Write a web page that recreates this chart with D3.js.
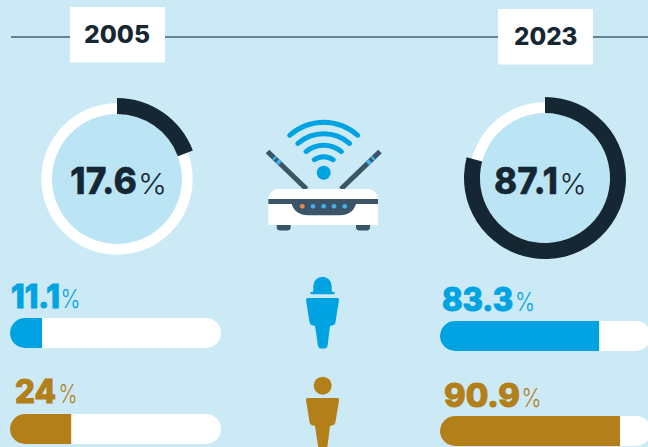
<!DOCTYPE html>
<html>
<head>
<meta charset="utf-8">
<script src="https://cdnjs.cloudflare.com/ajax/libs/d3/7.8.5/d3.min.js"></script>
<style>
  html, body { margin: 0; padding: 0; background: #cbeaf6; overflow: hidden; }
  svg { display: block; }
  text { font-family: Inter, "Open Sans", sans-serif; }
</style>
</head>
<body>
<script>
var years = ['2005', '2023']
var ringLabels = ['17.6', '87.1']
// share of the ring as it is actually drawn, the artwork is not to scale
var ringDrawn = [19.3, 79.1]
var barLabels = ['11.1', '24', '83.3', '90.9']
// same for the bars, percent of the white track that is filled
var barDrawn = [15.2, 29, 75.4, 85.3]

var W = 648, H = 447
var DARK = '#152733', BLUE = '#00a3e2', GOLD = '#b27f19', SLATE = '#3b5468'
var WHITE = '#ffffff', PALE = '#bbe4f5', LED = '#45b1ea', ORANGE = '#ea8a4a'

var svg = d3.select('body').append('svg').attr('width', W).attr('height', H)
svg.append('rect').attr('width', W).attr('height', H).attr('fill', '#cbeaf6')

// header line and year boxes
svg.append('line').attr('x1', 11).attr('x2', W).attr('y1', 37).attr('y2', 37)
  .attr('stroke', '#456274').attr('stroke-width', 1.4)

var yearBoxes = [{ x: 70, y: 7, tx: 84, tw: 66 }, { x: 498, y: 9, tx: 514, tw: 63.5 }]
years.forEach(function(y, i){
  var b = yearBoxes[i]
  svg.append('rect').attr('x', b.x).attr('y', b.y).attr('width', 95).attr('height', 55.5).attr('fill', WHITE)
  svg.append('text').text(y)
    .attr('x', b.tx).attr('y', b.y + 35.5)
    .attr('font-size', 24).attr('font-weight', 800).attr('fill', DARK)
    .attr('textLength', b.tw).attr('lengthAdjust', 'spacingAndGlyphs')
})

// rings
var ringAngle = d3.scaleLinear().domain([0, 100]).range([0, 2 * Math.PI])
var ringPos = [
  { cx: 117, cy: 179, tx: 70, tw: 67, px: 138, pw: 29, by: 194 },
  { cx: 545, cy: 178, tx: 494, tw: 64, px: 559.5, pw: 27, by: 194 }
]
var whiteArc = d3.arc().innerRadius(65).outerRadius(75.7)
var darkArc = d3.arc().innerRadius(65).outerRadius(81)

ringDrawn.forEach(function(v, i){
  var p = ringPos[i]
  var g = svg.append('g').attr('transform', 'translate(' + p.cx + ',' + p.cy + ')')
  g.append('circle').attr('r', 65).attr('fill', PALE)
  g.append('path').attr('fill', WHITE).attr('d', whiteArc({ startAngle: 0, endAngle: 2 * Math.PI }))
  g.append('path').attr('fill', DARK).attr('d', darkArc({ startAngle: 0, endAngle: ringAngle(v) }))
  valueLabel(ringLabels[i], p.tx, p.by, p.tw, p.px, p.pw, 37, DARK, 0.3)
})

// bars
var barWidth = d3.scaleLinear().domain([0, 100]).range([0, 211])
var barPos = [
  { x: 10, y: 318, tx: 11, tw: 49, px: 60.5, pw: 20, by: 307.5, c: BLUE },
  { x: 10, y: 414, tx: 15, tw: 41, px: 58.5, pw: 19, by: 403, c: GOLD },
  { x: 440, y: 321, tx: 442, tw: 71, px: 515, pw: 20, by: 310.5, c: BLUE },
  { x: 440, y: 416, tx: 444, tw: 76, px: 521.5, pw: 20, by: 406.5, c: GOLD }
]
barDrawn.forEach(function(v, i){
  var p = barPos[i]
  var h = 30, r = h / 2, w = barWidth(v)
  svg.append('rect').attr('x', p.x).attr('y', p.y).attr('width', barWidth(100)).attr('height', h)
    .attr('rx', r).attr('fill', WHITE)
  // rounded on the left only
  svg.append('path').attr('fill', p.c)
    .attr('d', 'M' + (p.x + w) + ',' + p.y + 'V' + (p.y + h) + 'H' + (p.x + r) +
      'A' + r + ',' + r + ' 0 0 1 ' + (p.x + r) + ',' + p.y + 'Z')
  valueLabel(barLabels[i], p.tx, p.by, p.tw, p.px, p.pw, 32, p.c, 1)
})

function valueLabel(txt, x, y, w, px, pw, size, color, extra){
  svg.append('text').text(txt).attr('x', x).attr('y', y)
    .attr('font-size', size).attr('font-weight', 800).attr('fill', color)
    .attr('stroke', color).attr('stroke-width', extra)
    .attr('textLength', w).attr('lengthAdjust', 'spacingAndGlyphs')
  svg.append('text').text('%').attr('x', px).attr('y', y)
    .attr('font-size', size * 0.78).attr('font-weight', 300).attr('fill', color)
    .attr('textLength', pw).attr('lengthAdjust', 'spacingAndGlyphs')
}

drawRouter()
drawPerson(0, BLUE, true)
drawPerson(100, GOLD, false)

function drawRouter(){
  var g = svg.append('g')
  var c = { x: 323.7, y: 172.7 }
  g.append('circle').attr('cx', c.x).attr('cy', c.y).attr('r', 7).attr('fill', BLUE)
  var wave = d3.arc().startAngle(-Math.PI / 4).endAngle(Math.PI / 4).cornerRadius(2.5)
  ;[[13.5, 18.5], [25, 30], [36.5, 41.5], [48, 53]].forEach(function(a){
    g.append('path').attr('transform', 'translate(' + c.x + ',' + c.y + ')')
      .attr('fill', BLUE).attr('d', wave({ innerRadius: a[0], outerRadius: a[1] }))
  })
  // antennas
  var ant = [[267.5, 151.5, 306.5, 189], [380, 151.5, 341, 189]]
  ant.forEach(function(a){
    var dx = a[2] - a[0], dy = a[3] - a[1]
    var seg = function(f0, f1, col){
      g.append('line').attr('stroke', col).attr('stroke-width', 5.2)
        .attr('x1', a[0] + dx * f0).attr('y1', a[1] + dy * f0)
        .attr('x2', a[0] + dx * f1).attr('y2', a[1] + dy * f1)
    }
    seg(0, 1, SLATE)
    seg(0.16, 0.2, LED)
    seg(0.25, 0.32, LED)
  })
  // feet
  ;[276.7, 356].forEach(function(x){
    g.append('path').attr('fill', SLATE)
      .attr('d', 'M' + x + ',224V227a3.5,3.5 0 0 0 3.5,3.5H' + (x + 10.5) + 'a3.5,3.5 0 0 0 3.5,-3.5V224Z')
  })
  // body
  g.append('path').attr('fill', WHITE)
    .attr('d', 'M268.3,225V199a10,10 0 0 1 10,-10H368a10,10 0 0 1 10,10V225Z')
  g.append('rect').attr('x', 268.3).attr('y', 199).attr('width', 109.7).attr('height', 5).attr('fill', SLATE)
  g.append('path').attr('fill', SLATE)
    .attr('d', 'M291.7,204H356C354,211 348,215.3 340,215.3H307.7C299.7,215.3 293.7,211 291.7,204Z')
  ;[302.3, 313, 323.7, 334, 344.7].forEach(function(x, i){
    g.append('circle').attr('cx', x).attr('cy', 206.3).attr('r', 2.4).attr('fill', i === 0 ? ORANGE : LED)
  })
}

function drawPerson(dy, color, hat){
  var g = svg.append('g').attr('transform', 'translate(0,' + dy + ')').attr('fill', color)
  if(hat){
    g.append('path').attr('d', 'M313.3,291.5V286a9.2,9.2 0 0 1 18.4,0V291.5L335,292.5Q335,294.3 333,294.3H312Q310,294.3 310,292.5Z')
  }else{
    g.append('circle').attr('cx', 322.7).attr('cy', 285.7).attr('r', 9)
  }
  g.append('path').attr('d',
    'M308,298H337.5Q339.2,298 339,300L335.5,322Q335,325 332,325.5L330,326L327.5,346Q327,348.6 324.5,348.6H321Q318.6,348.6 318,346L315,326L313,325.5Q310,325 309.5,322L306,300Q305.8,298 308,298Z')
}
</script>
</body>
</html>
